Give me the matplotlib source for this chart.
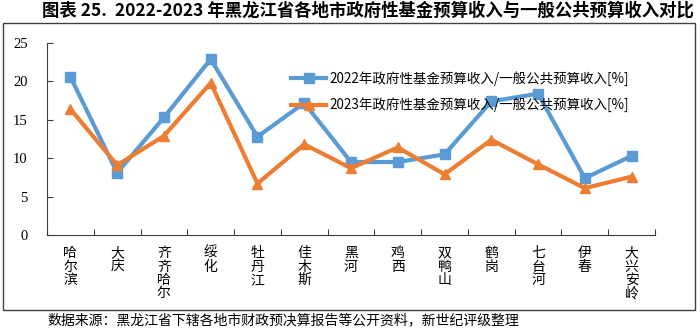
import matplotlib.pyplot as plt
from matplotlib.patches import Rectangle

plt.rcParams['font.family'] = ['Noto Sans CJK SC', 'DejaVu Sans']

#---------- données ----------#
villes = ["哈尔滨", "大庆", "齐齐哈尔", "绥化", "牡丹江", "佳木斯", "黑河",
          "鸡西", "双鸭山", "鹤岗", "七台河", "伊春", "大兴安岭"]
ratio_2022 = [20.6, 8.1, 15.3, 22.9, 12.8, 17.2, 9.5, 9.5, 10.5, 17.4, 18.4, 7.4, 10.3]
ratio_2023 = [16.4, 9.1, 12.9, 19.8, 6.7, 11.8, 8.7, 11.4, 7.9, 12.4, 9.2, 6.1, 7.6]
label_2022 = "2022年政府性基金预算收入/一般公共预算收入[%]"
label_2023 = "2023年政府性基金预算收入/一般公共预算收入[%]"
y_ticks = [0, 5, 10, 15, 20, 25]

titre = "图表 25.  2022-2023 年黑龙江省各地市政府性基金预算收入与一般公共预算收入对比"
source = "数据来源：黑龙江省下辖各地市财政预决算报告等公开资料，新世纪评级整理"

bleu = "#5B9BD5"
orange = "#ED7D31"

#---------- figure ----------#
fig = plt.figure(figsize=(7, 3.33), dpi=100)
ax = fig.add_axes([47/700, 1 - 235/333, 608/700, 192/333])

x = list(range(len(villes)))
ax.plot(x, ratio_2022, color=bleu, lw=3, marker="s", ms=7, label=label_2022)
ax.plot(x, ratio_2023, color=orange, lw=3, marker="^", ms=7, label=label_2023)

ax.set_xlim(-0.5, len(villes) - 0.5)
ax.set_ylim(0, 25)
ax.set_yticks(y_ticks)
ax.set_yticklabels([str(v) for v in y_ticks], family="Liberation Serif", fontsize=10.5)
ax.tick_params(axis="y", direction="in", length=4, pad=14, color="#404040")

# graduations entre les catégories, étiquettes au centre
ax.set_xticks([i + 0.5 for i in range(-1, len(villes))], minor=False)
ax.set_xticklabels([])
ax.tick_params(axis="x", direction="in", length=4, color="#404040")
ax.set_xticks(x, minor=True)
ax.set_xticklabels(["\n".join(v) for v in villes], minor=True, fontsize=10,
                   linespacing=0.95, va="top")
ax.tick_params(axis="x", which="minor", length=0, pad=8)

for s in ["top", "right"]:
    ax.spines[s].set_visible(False)
for s in ["left", "bottom"]:
    ax.spines[s].set_color("#404040")

ax.legend(loc="upper left", bbox_to_anchor=(0.393, 0.88), frameon=False,
          fontsize=9.7, handlelength=2.6, labelspacing=0.85, borderaxespad=0,
          handletextpad=0.2)

fig.patches.append(Rectangle((3/700, 1 - 310/333), 692/700, 287/333,
                             transform=fig.transFigure, fill=False,
                             edgecolor="#404040", lw=1))

fig.text(368/700, 1 - 11/333, titre, ha="center", va="center",
         fontsize=12.5, fontweight="bold")
fig.text(47/700, 1 - 320/333, source, ha="left", va="center", fontsize=10)

fig.savefig("out.png", dpi=100)
